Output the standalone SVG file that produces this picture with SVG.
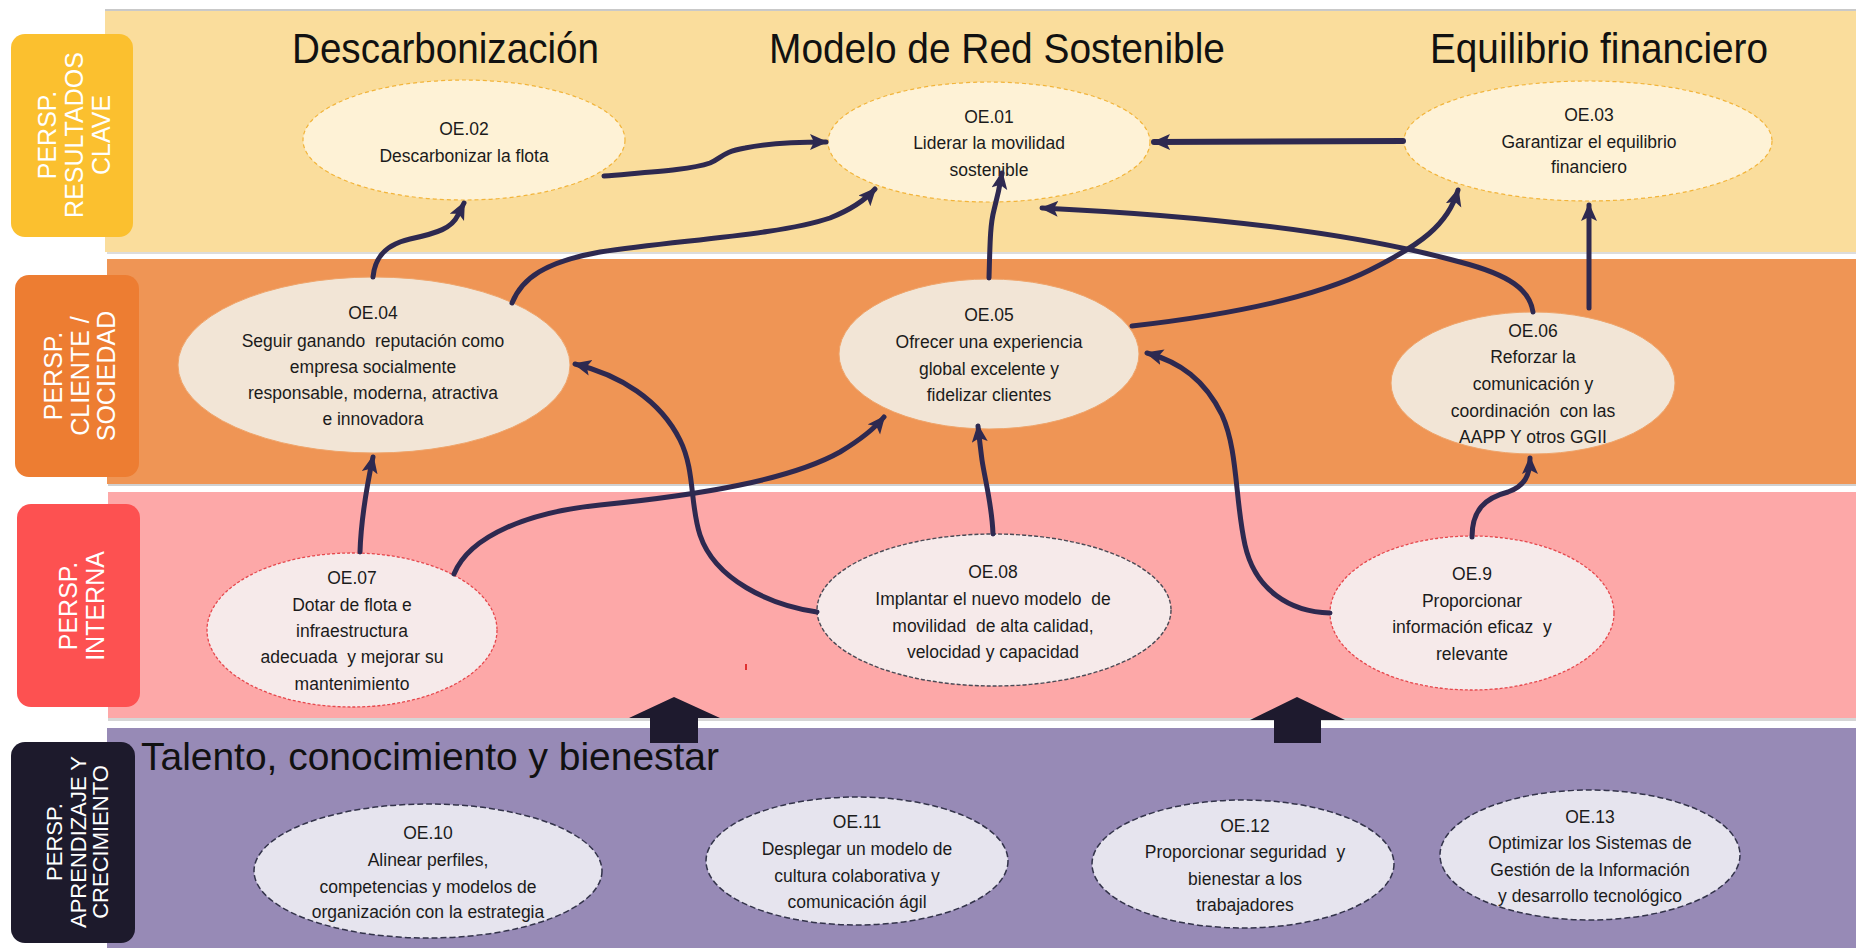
<svg xmlns="http://www.w3.org/2000/svg" width="1856" height="948" viewBox="0 0 1856 948">
<defs>
<marker id="ah" markerUnits="userSpaceOnUse" markerWidth="20" markerHeight="18" refX="16" refY="8" orient="auto">
<path d="M0,0 L18,8 L0,16 L4,8 z" fill="#2E2950"/>
</marker>
<style>
.lbl{font-family:"Liberation Sans",Arial,sans-serif;font-size:25px;fill:#ffffff;text-anchor:middle}
.ttl{font-family:"Liberation Sans",Arial,sans-serif;font-size:42px;fill:#111111}
.t{font-family:"Liberation Sans",Arial,sans-serif;font-size:17.5px;fill:#1b1b1b;text-anchor:middle}
.con{fill:none;stroke:#2E2950;stroke-width:5;stroke-linecap:round;marker-end:url(#ah)}
.e1{fill:#FEF2D6;stroke:#F2B43A;stroke-width:1.2;stroke-dasharray:4 3}
.e2{fill:#F2E5D6;stroke:#EFA46A;stroke-width:1}
.e3{fill:#F6EAEA;stroke:#E5484D;stroke-width:1.3;stroke-dasharray:3 2}
.e3d{fill:#F6EAEA;stroke:#4a4a55;stroke-width:1.4;stroke-dasharray:4 2}
.e4{fill:#E6E4EE;stroke:#33334a;stroke-width:1.5;stroke-dasharray:6 3}
</style>
</defs>
<rect x="0" y="0" width="1856" height="948" fill="#ffffff"/>
<!-- bands -->
<g id="bands">
<rect x="105" y="9" width="1751" height="2" fill="#c9c9c9"/>
<rect x="105" y="11" width="1751" height="241" fill="#FADD9C"/>
<rect x="107" y="252" width="1749" height="2" fill="#dcdcdc"/>
<rect x="107" y="259" width="1749" height="225" fill="#EF9555"/>
<rect x="108" y="484" width="1748" height="2" fill="#d0d0d0"/>
<rect x="108" y="492" width="1748" height="226" fill="#FDA8A8"/>
<rect x="108" y="718" width="1748" height="3" fill="#d6d6d6"/>
<rect x="107" y="728" width="1749" height="220" fill="#978AB6"/>
<rect x="745" y="664" width="2" height="6" fill="#E03030"/>
</g>
<!-- perspective labels -->
<g id="lab-resultados">
<rect x="11" y="34" width="122" height="203" rx="14" fill="#FBC02F"/>
<g transform="translate(72,135) rotate(-90)">
<text class="lbl" x="0" y="-16">PERSP.</text>
<text class="lbl" x="0" y="11">RESULTADOS</text>
<text class="lbl" x="0" y="38">CLAVE</text>
</g>
</g>
<g id="lab-cliente">
<rect x="15" y="275" width="124" height="202" rx="14" fill="#ED7D32"/>
<g transform="translate(77,376) rotate(-90)">
<text class="lbl" x="0" y="-15">PERSP.</text>
<text class="lbl" x="0" y="12">CLIENTE /</text>
<text class="lbl" x="0" y="38">SOCIEDAD</text>
</g>
</g>
<g id="lab-interna">
<rect x="17" y="504" width="123" height="203" rx="14" fill="#FD5151"/>
<g transform="translate(78,606) rotate(-90)">
<text class="lbl" x="0" y="-1">PERSP.</text>
<text class="lbl" x="0" y="26">INTERNA</text>
</g>
</g>
<g id="lab-aprendizaje">
<rect x="11" y="742" width="124" height="201" rx="14" fill="#1D1A2C"/>
<g transform="translate(73,842) rotate(-90)">
<text class="lbl" x="0" y="-11" style="font-size:22px">PERSP.</text>
<text class="lbl" x="0" y="13" style="font-size:22px">APRENDIZAJE Y</text>
<text class="lbl" x="0" y="35" style="font-size:22px">CRECIMIENTO</text>
</g>
</g>
<!-- block arrows -->
<g id="block-arrows">
<polygon points="674,697 720,718 698,718 698,743 650,743 650,718 629,718" fill="#1E1A2E"/>
<polygon points="1297,697 1345,720 1321,720 1321,743 1274,743 1274,720 1250,720" fill="#1E1A2E"/>
</g>
<!-- titles -->
<g id="titles">
<text class="ttl" x="292" y="63" textLength="307" lengthAdjust="spacingAndGlyphs">Descarbonización</text>
<text class="ttl" x="769" y="63" textLength="456" lengthAdjust="spacingAndGlyphs">Modelo de Red Sostenible</text>
<text class="ttl" x="1430" y="63" textLength="338" lengthAdjust="spacingAndGlyphs">Equilibrio financiero</text>
<text class="ttl" x="141" y="770" style="font-size:39px" textLength="578" lengthAdjust="spacingAndGlyphs">Talento, conocimiento y bienestar</text>
</g>
<!-- nodes -->
<g id="OE02">
<ellipse class="e1" cx="464" cy="140" rx="161" ry="60"/>
<text class="t" x="464" y="135">OE.02</text>
<text class="t" x="464" y="162">Descarbonizar la flota</text>
</g>
<g id="OE01">
<ellipse class="e1" cx="989" cy="142" rx="161" ry="60"/>
<text class="t" x="989" y="123">OE.01</text>
<text class="t" x="989" y="149">Liderar la movilidad</text>
<text class="t" x="989" y="176">sostenible</text>
</g>
<g id="OE03">
<ellipse class="e1" cx="1588" cy="141" rx="184" ry="60"/>
<text class="t" x="1589" y="121">OE.03</text>
<text class="t" x="1589" y="148">Garantizar el equilibrio</text>
<text class="t" x="1589" y="173">financiero</text>
</g>
<g id="OE04">
<ellipse class="e2" cx="374" cy="365" rx="196" ry="88"/>
<text class="t" x="373" y="319">OE.04</text>
<text class="t" x="373" y="347" xml:space="preserve">Seguir ganando  reputación como</text>
<text class="t" x="373" y="373">empresa socialmente</text>
<text class="t" x="373" y="399">responsable, moderna, atractiva</text>
<text class="t" x="373" y="425">e innovadora</text>
</g>
<g id="OE05">
<ellipse class="e2" cx="989" cy="354" rx="150" ry="75"/>
<text class="t" x="989" y="321">OE.05</text>
<text class="t" x="989" y="348">Ofrecer una experiencia</text>
<text class="t" x="989" y="375">global excelente y</text>
<text class="t" x="989" y="401">fidelizar clientes</text>
</g>
<g id="OE06">
<ellipse class="e2" cx="1533" cy="383" rx="142" ry="71"/>
<text class="t" x="1533" y="337">OE.06</text>
<text class="t" x="1533" y="363">Reforzar la</text>
<text class="t" x="1533" y="390">comunicación y</text>
<text class="t" x="1533" y="417" xml:space="preserve">coordinación  con las</text>
<text class="t" x="1533" y="443">AAPP Y otros GGII</text>
</g>
<g id="OE07">
<ellipse class="e3" cx="352" cy="630" rx="145" ry="77"/>
<text class="t" x="352" y="584">OE.07</text>
<text class="t" x="352" y="611">Dotar de flota e</text>
<text class="t" x="352" y="637">infraestructura</text>
<text class="t" x="352" y="663" xml:space="preserve">adecuada  y mejorar su</text>
<text class="t" x="352" y="690">mantenimiento</text>
</g>
<g id="OE08">
<ellipse class="e3d" cx="994" cy="610" rx="177" ry="76"/>
<text class="t" x="993" y="578">OE.08</text>
<text class="t" x="993" y="605" xml:space="preserve">Implantar el nuevo modelo  de</text>
<text class="t" x="993" y="632" xml:space="preserve">movilidad  de alta calidad,</text>
<text class="t" x="993" y="658">velocidad y capacidad</text>
</g>
<g id="OE9">
<ellipse class="e3" cx="1472" cy="613" rx="142" ry="77"/>
<text class="t" x="1472" y="580">OE.9</text>
<text class="t" x="1472" y="607">Proporcionar</text>
<text class="t" x="1472" y="633" xml:space="preserve">información eficaz  y</text>
<text class="t" x="1472" y="660">relevante</text>
</g>
<g id="OE10">
<ellipse class="e4" cx="428" cy="871" rx="174" ry="67"/>
<text class="t" x="428" y="839">OE.10</text>
<text class="t" x="428" y="866">Alinear perfiles,</text>
<text class="t" x="428" y="893">competencias y modelos de</text>
<text class="t" x="428" y="918">organización con la estrategia</text>
</g>
<g id="OE11">
<ellipse class="e4" cx="857" cy="861" rx="151" ry="64"/>
<text class="t" x="857" y="828">OE.11</text>
<text class="t" x="857" y="855">Desplegar un modelo de</text>
<text class="t" x="857" y="882">cultura colaborativa y</text>
<text class="t" x="857" y="908">comunicación ágil</text>
</g>
<g id="OE12">
<ellipse class="e4" cx="1243" cy="864" rx="151" ry="64"/>
<text class="t" x="1245" y="832">OE.12</text>
<text class="t" x="1245" y="858" xml:space="preserve">Proporcionar seguridad  y</text>
<text class="t" x="1245" y="885">bienestar a los</text>
<text class="t" x="1245" y="911">trabajadores</text>
</g>
<g id="OE13">
<ellipse class="e4" cx="1590" cy="855" rx="150" ry="65"/>
<text class="t" x="1590" y="823">OE.13</text>
<text class="t" x="1590" y="849">Optimizar los Sistemas de</text>
<text class="t" x="1590" y="876">Gestión de la Información</text>
<text class="t" x="1590" y="902">y desarrollo tecnológico</text>
</g>
<!-- connectors -->
<g id="connectors">
<path class="con" d="M604,176 C650,172 690,170 710,163 C722,158 722,152 745,148 C770,143 795,142 826,142"/>
<path class="con" d="M373,277 C375,255 388,244 410,239 C438,233 452,228 458,215 C461,209 463,205 464,203"/>
<path class="con" d="M512,303 C522,278 545,262 600,252 C680,240 780,235 830,218 C855,208 867,198 875,189"/>
<path class="con" d="M989,278 C990,245 990,225 994,210 C998,195 1000,185 1002,173"/>
<path class="con" style="stroke-width:6" d="M1403,141 L1154,142"/>
<path class="con" d="M1533,312 C1530,290 1510,275 1460,262 C1380,240 1250,218 1042,208"/>
<path class="con" d="M1132,326 C1220,316 1310,300 1370,270 C1420,245 1448,225 1458,190"/>
<path class="con" d="M1589,308 L1589,205"/>
<path class="con" d="M360,552 C361,520 366,490 373,457"/>
<path class="con" d="M454,574 C470,535 530,512 600,505 C700,495 790,480 840,452 C860,440 875,428 884,417"/>
<path class="con" d="M817,612 C770,605 715,580 700,535 C690,505 695,470 680,440 C660,400 620,375 575,364"/>
<path class="con" d="M993,534 C992,505 985,480 982,460 C980,445 979,435 978,426"/>
<path class="con" d="M1330,613 C1290,612 1255,590 1245,545 C1235,500 1238,450 1222,415 C1205,380 1180,362 1147,353"/>
<path class="con" d="M1472,537 C1472,510 1485,498 1508,492 C1525,486 1530,475 1530,458"/>
</g>
</svg>
